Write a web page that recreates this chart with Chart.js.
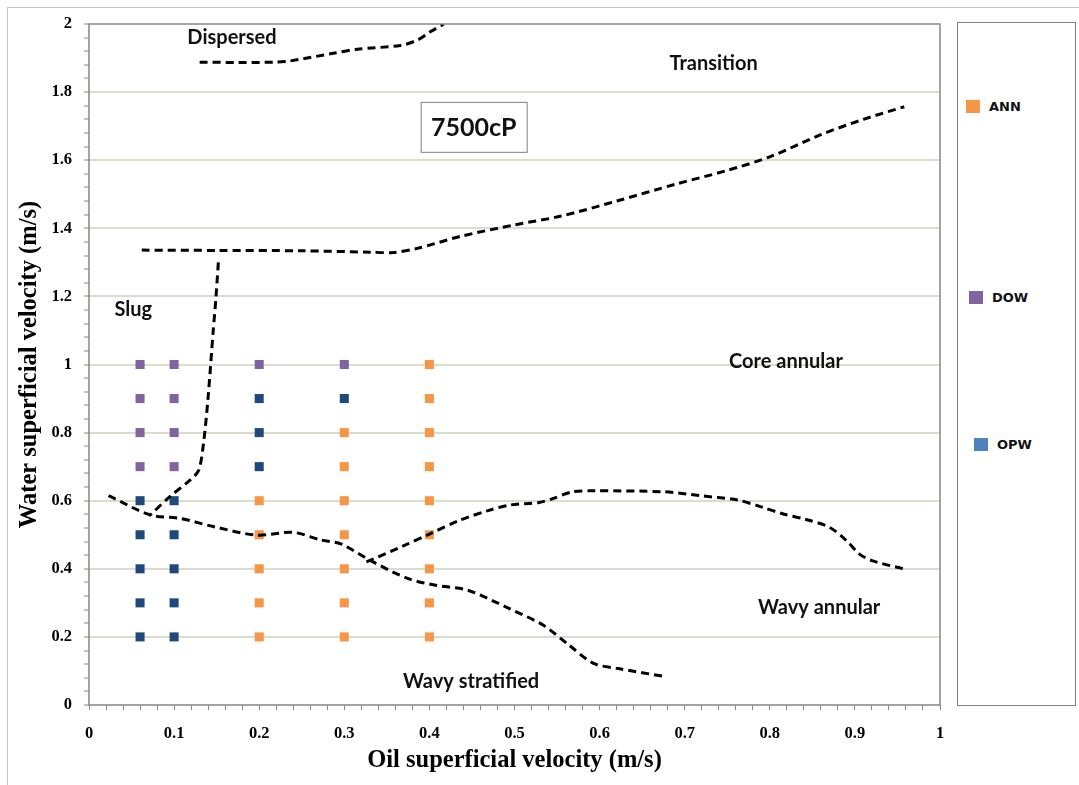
<!DOCTYPE html>
<html>
<head>
<meta charset="utf-8">
<script src="https://cdn.jsdelivr.net/npm/chart.js@4.4.1/dist/chart.umd.min.js"></script>
<style>
  body { margin: 0; background: #fff; }
  #wrap { position: relative; width: 1079px; height: 785px; overflow: hidden; }
  #frame { position: absolute; left: 7px; top: 7px; width: 1100px; height: 800px; border: 1px solid #c4c4c4; }
  #chart { position: absolute; left: 0; top: 0; }
  #legend { position: absolute; left: 957px; top: 22px; width: 117px; height: 682px; border: 1px solid #7f7f7f; background: #fff; }
  .item { position: absolute; display: flex; align-items: center; font: bold 13px "DejaVu Sans", Arial, sans-serif; color: #111; }
  .swatch { width: 14px; height: 13px; margin-right: 9px; }
</style>
</head>
<body>
<div id="wrap">
  <div id="frame"></div>
  <canvas id="chart" width="1079" height="785"></canvas>
  <div id="legend"></div>
</div>
<script>
// measured flow patterns (oil / water superficial velocity, m/s)
const annX = [0.2, 0.2, 0.2, 0.2, 0.2,
              0.3, 0.3, 0.3, 0.3, 0.3, 0.3, 0.3,
              0.4, 0.4, 0.4, 0.4, 0.4, 0.4, 0.4, 0.4, 0.4];
const annY = [0.2, 0.3, 0.4, 0.5, 0.6,
              0.2, 0.3, 0.4, 0.5, 0.6, 0.7, 0.8,
              0.2, 0.3, 0.4, 0.5, 0.6, 0.7, 0.8, 0.9, 1.0];
const dowX = [0.06, 0.06, 0.06, 0.06, 0.1, 0.1, 0.1, 0.1, 0.2, 0.3];
const dowY = [0.7, 0.8, 0.9, 1.0, 0.7, 0.8, 0.9, 1.0, 1.0, 1.0];
const opwX = [0.06, 0.06, 0.06, 0.06, 0.06, 0.1, 0.1, 0.1, 0.1, 0.1, 0.2, 0.2, 0.2, 0.3];
const opwY = [0.2, 0.3, 0.4, 0.5, 0.6, 0.2, 0.3, 0.4, 0.5, 0.6, 0.7, 0.8, 0.9, 0.9];

// hand-drawn regime boundaries
const dispersedX = [0.13, 0.175, 0.22, 0.235, 0.287, 0.315, 0.366, 0.386, 0.401, 0.417];
const dispersedY = [1.888, 1.887, 1.888, 1.891, 1.914, 1.926, 1.937, 1.953, 1.977, 2.0];
const transitionX = [0.062, 0.15, 0.25, 0.33, 0.358, 0.386, 0.436, 0.50, 0.555, 0.62, 0.69, 0.75, 0.80, 0.86, 0.91, 0.958];
const transitionY = [1.336, 1.335, 1.334, 1.33, 1.329, 1.341, 1.376, 1.41, 1.436, 1.48, 1.53, 1.57, 1.61, 1.675, 1.72, 1.757];
const slugX = [0.152, 0.149, 0.146, 0.140, 0.135, 0.129, 0.119, 0.095, 0.072];
const slugY = [1.30, 1.19, 1.10, 0.905, 0.778, 0.69, 0.661, 0.612, 0.558];
const stratifiedX = [0.023, 0.072, 0.107, 0.146, 0.197, 0.240, 0.272, 0.296, 0.331, 0.375, 0.409, 0.445, 0.494, 0.534, 0.564, 0.593, 0.622, 0.678];
const stratifiedY = [0.615, 0.558, 0.548, 0.524, 0.499, 0.507, 0.485, 0.473, 0.424, 0.371, 0.351, 0.337, 0.283, 0.234, 0.176, 0.122, 0.107, 0.083];
const annularX = [0.326, 0.370, 0.400, 0.435, 0.469, 0.494, 0.529, 0.544, 0.568, 0.593, 0.677, 0.717, 0.762, 0.791, 0.816, 0.841, 0.870, 0.890, 0.905, 0.920, 0.957];
const annularY = [0.420, 0.468, 0.502, 0.542, 0.571, 0.587, 0.595, 0.605, 0.626, 0.629, 0.626, 0.615, 0.602, 0.581, 0.561, 0.546, 0.522, 0.483, 0.444, 0.424, 0.400];

const seriesNames = ['ANN', 'DOW', 'OPW'];
const pointColors = ['#F79646', '#8064A2', '#1F497D'];
const legendColors = ['#F79646', '#8064A2', '#4F81BD'];

// region names, placed in axis units
const regionLabels = [
  { text: 'Dispersed', x: 0.168, y: 1.959 },
  { text: 'Transition', x: 0.734, y: 1.885 },
  { text: 'Slug', x: 0.052, y: 1.16 },
  { text: 'Core annular', x: 0.819, y: 1.01 },
  { text: 'Wavy annular', x: 0.858, y: 0.285 },
  { text: 'Wavy stratified', x: 0.449, y: 0.068 }
];
const viscosityLabel = { text: '7500cP', x: 0.452, y: 1.698 };

function toPoints(xs, ys) {
  return xs.map((x, i) => ({ x: x, y: ys[i] }));
}

function markerSet(i, xs, ys) {
  return {
    label: seriesNames[i],
    data: toPoints(xs, ys),
    showLine: false,
    pointStyle: 'rect',
    pointRadius: 6.4,
    pointBackgroundColor: pointColors[i],
    pointBorderWidth: 0,
    order: 2
  };
}

function boundary(xs, ys) {
  return {
    data: toPoints(xs, ys),
    showLine: true,
    borderColor: '#000',
    borderWidth: 3,
    borderDash: [8, 5],
    tension: 0.3,
    pointRadius: 0,
    order: 1
  };
}

function isStep(v, step) {
  return Math.abs(v / step - Math.round(v / step)) < 1e-6;
}

const frameAndLabels = {
  id: 'frameAndLabels',
  afterDatasetsDraw(chart) {
    const ctx = chart.ctx;
    const a = chart.chartArea;
    const sx = chart.scales.x, sy = chart.scales.y;
    ctx.save();
    ctx.strokeStyle = '#868686';
    ctx.lineWidth = 1.5;
    ctx.strokeRect(a.left, a.top, a.right - a.left, a.bottom - a.top);

    ctx.fillStyle = '#111';
    ctx.textAlign = 'center';
    ctx.textBaseline = 'middle';
    ctx.font = 'bold 20px Lato, "Open Sans", sans-serif';
    regionLabels.forEach(l => {
      ctx.fillText(l.text, sx.getPixelForValue(l.x), sy.getPixelForValue(l.y));
    });

    const cx = sx.getPixelForValue(viscosityLabel.x);
    const cy = sy.getPixelForValue(viscosityLabel.y);
    ctx.fillStyle = '#fff';
    ctx.fillRect(cx - 53, cy - 25, 106, 50);
    ctx.strokeStyle = '#7f7f7f';
    ctx.lineWidth = 1;
    ctx.strokeRect(cx - 53 + 0.5, cy - 25 + 0.5, 106, 50);
    ctx.fillStyle = '#111';
    ctx.font = 'bold 25px Lato, "Open Sans", sans-serif';
    ctx.fillText(viscosityLabel.text, cx, cy + 1);
    ctx.restore();
  }
};

const tickFont = { family: '"Liberation Serif", "Times New Roman", serif', size: 16.5, weight: 'bold' };
const titleFont = { family: '"Liberation Serif", "Times New Roman", serif', size: 24.5, weight: 'bold' };

new Chart(document.getElementById('chart'), {
  type: 'scatter',
  data: {
    datasets: [
      boundary(dispersedX, dispersedY),
      boundary(transitionX, transitionY),
      boundary(slugX, slugY),
      boundary(stratifiedX, stratifiedY),
      boundary(annularX, annularY),
      markerSet(0, annX, annY),
      markerSet(1, dowX, dowY),
      markerSet(2, opwX, opwY)
    ]
  },
  options: {
    responsive: false,
    animation: false,
    layout: { padding: { top: 24, right: 139, left: 0, bottom: 0 } },
    plugins: { legend: { display: false }, tooltip: { enabled: false } },
    scales: {
      x: {
        type: 'linear',
        min: 0, max: 1,
        afterFit(scale) { scale.height = 80; },
        border: { display: false },
        grid: {
          drawOnChartArea: false,
          tickLength: 5,
          tickColor: '#868686',
          tickWidth: 1
        },
        ticks: {
          stepSize: 0.02,
          autoSkip: false,
          maxRotation: 0,
          padding: 14,
          color: '#000',
          font: tickFont,
          callback: v => isStep(v, 0.1) ? String(Number(v.toFixed(1))) : ''
        },
        title: {
          display: true,
          text: 'Oil superficial velocity (m/s)',
          color: '#000',
          font: titleFont,
          padding: { top: 0, bottom: 10 }
        }
      },
      y: {
        type: 'linear',
        min: 0, max: 2,
        afterFit(scale) { scale.width = 89; },
        border: { display: false },
        grid: {
          color: c => (c.tick && isStep(c.tick.value, 0.2) && c.tick.value > 0 && c.tick.value < 2) ? '#dcdccb' : 'rgba(0,0,0,0)',
          lineWidth: 2,
          tickLength: 5,
          tickColor: '#868686',
          tickWidth: 1
        },
        ticks: {
          stepSize: 0.04,
          autoSkip: false,
          padding: 12,
          color: '#000',
          font: tickFont,
          callback: v => isStep(v, 0.2) ? String(Number(v.toFixed(1))) : ''
        },
        title: {
          display: true,
          text: 'Water superficial velocity (m/s)',
          color: '#000',
          font: titleFont,
          padding: { top: 15, bottom: 0 }
        }
      }
    }
  },
  plugins: [frameAndLabels]
});

// legend in its own box to the right of the plot
const legendSpots = [{ left: 8, top: 76 }, { left: 11, top: 267 }, { left: 16, top: 414 }];
const legendBox = document.getElementById('legend');
seriesNames.forEach((name, i) => {
  const item = document.createElement('div');
  item.className = 'item';
  item.style.left = legendSpots[i].left + 'px';
  item.style.top = legendSpots[i].top + 'px';
  const sw = document.createElement('span');
  sw.className = 'swatch';
  sw.style.background = legendColors[i];
  item.appendChild(sw);
  item.appendChild(document.createTextNode(name));
  legendBox.appendChild(item);
});
</script>
</body>
</html>
